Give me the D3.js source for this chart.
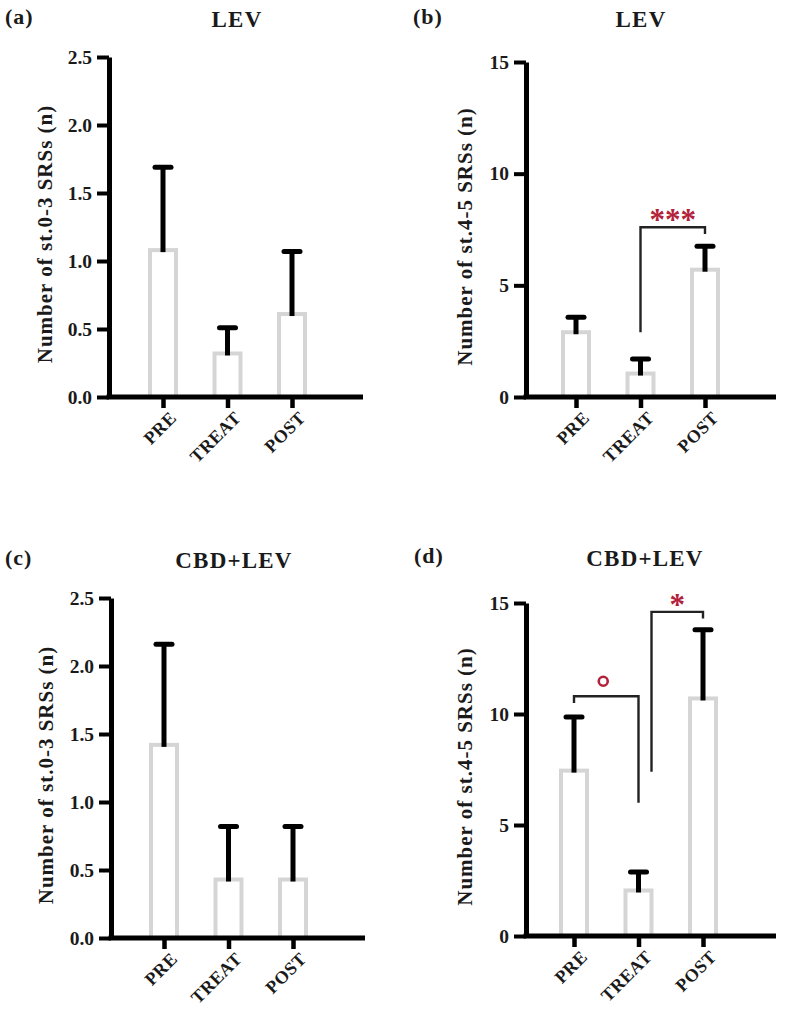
<!DOCTYPE html>
<html>
<head>
<meta charset="utf-8">
<script src="https://cdn.jsdelivr.net/npm/d3@7"></script>
<style>
  body { margin: 0; background: #fff; }
  text { font-family: "Liberation Serif", "DejaVu Serif", serif; font-weight: bold; fill: #1a1a1a; }
</style>
</head>
<body>
<svg width="786" height="1009"></svg>
<script>

// groups on the x axis
let groups = ['PRE', 'TREAT', 'POST']

// mean and error (SEM) per panel
let levLow = [1.08, 0.32, 0.61]
let levLowErr = [0.61, 0.19, 0.46]
let levHigh = [2.9, 1.05, 5.7]
let levHighErr = [0.67, 0.65, 1.05]
let cbdLow = [1.42, 0.43, 0.43]
let cbdLowErr = [0.74, 0.39, 0.39]
let cbdHigh = [7.45, 2.05, 10.7]
let cbdHighErr = [2.41, 0.83, 3.1]

// y ticks
let ticksLow = [0, 0.5, 1.0, 1.5, 2.0, 2.5]
let ticksHigh = [0, 5, 10, 15]

// significance brackets: from, to, left end, top, right end, label
let sigB = [{from: 'TREAT', to: 'POST', y1: 2.9, top: 7.6, y2: 7.3, label: '***', shift: 0}]
let sigD = [{from: 'PRE', to: 'TREAT', y1: 10.5, top: 10.8, y2: 6.0, label: 'o', shift: 0},
            {from: 'TREAT', to: 'POST', y1: 7.4, top: 14.6, y2: 14.3, label: '*', shift: 13}]

let panels = [
  {tag: '(a)', title: 'LEV', vals: levLow, errs: levLowErr, ticks: ticksLow, fmt: '.1f',
   ylab: 'Number of st.0-3 SRSs (n)', sig: [],
   ax: 109, px: 54, top: 57, base: 397, right: 363, tagX: 5, titleX: 237, titleY: 27, labX: 45},
  {tag: '(b)', title: 'LEV', vals: levHigh, errs: levHighErr, ticks: ticksHigh, fmt: 'd',
   ylab: 'Number of st.4-5 SRSs (n)', sig: sigB,
   ax: 526, px: 50, top: 62, base: 397, right: 776, tagX: 413, titleX: 641, titleY: 27, labX: 465},
  {tag: '(c)', title: 'CBD+LEV', vals: cbdLow, errs: cbdLowErr, ticks: ticksLow, fmt: '.1f',
   ylab: 'Number of st.0-3 SRSs (n)', sig: [],
   ax: 111, px: 53, top: 598, base: 938, right: 365, tagX: 5, titleX: 234, titleY: 568, labX: 46},
  {tag: '(d)', title: 'CBD+LEV', vals: cbdHigh, errs: cbdHighErr, ticks: ticksHigh, fmt: 'd',
   ylab: 'Number of st.4-5 SRSs (n)', sig: sigD,
   ax: 526, px: 48, top: 603, base: 936, right: 776, tagX: 414, titleX: 645, titleY: 566, labX: 465}
]

let svg = d3.select('svg')
let red = '#b3213a'

panels.forEach(p => {
  let g = svg.append('g')

  let x = d3.scalePoint().domain(groups).range([p.ax + p.px, p.ax + p.px + 129])
  let y = d3.scaleLinear().domain([0, d3.max(p.ticks)]).range([p.base, p.top])

  // headings
  g.append('text').attr('x', p.tagX).attr('y', p.titleY - 3)
    .attr('font-size', 22).attr('letter-spacing', 1).text(p.tag)
  g.append('text').attr('x', p.titleX).attr('y', p.titleY)
    .attr('font-size', 23).attr('letter-spacing', 1.2)
    .attr('text-anchor', 'middle').text(p.title)

  // bars
  let data = groups.map((k, i) => ({k: k, v: p.vals[i], e: p.errs[i]}))

  g.selectAll('rect.bar').data(data).enter().append('rect')
    .attr('class', 'bar')
    .attr('x', d => x(d.k) - 13)
    .attr('width', 26)
    .attr('y', d => y(d.v))
    .attr('height', d => y(0) - y(d.v))
    .attr('fill', '#fff')
    .attr('stroke', '#d5d5d5')
    .attr('stroke-width', 4)

  // error bars
  g.selectAll('line.err').data(data).enter().append('line')
    .attr('x1', d => x(d.k)).attr('x2', d => x(d.k))
    .attr('y1', d => y(d.v) + 2).attr('y2', d => y(d.v + d.e))
    .attr('stroke', '#000').attr('stroke-width', 5)
  g.selectAll('line.cap').data(data).enter().append('line')
    .attr('x1', d => x(d.k) - 8).attr('x2', d => x(d.k) + 8)
    .attr('y1', d => y(d.v + d.e)).attr('y2', d => y(d.v + d.e))
    .attr('stroke', '#000').attr('stroke-width', 5)
    .attr('stroke-linecap', 'round')

  // y axis
  let yAxis = g.append('g').attr('transform', `translate(${p.ax},0)`)
    .call(d3.axisLeft(y).tickValues(p.ticks).tickFormat(d3.format(p.fmt))
      .tickSize(12).tickSizeOuter(0).tickPadding(5))
  yAxis.select('.domain').attr('stroke-width', 5)
  yAxis.selectAll('.tick line').attr('stroke-width', 4)
  yAxis.selectAll('.tick text').attr('font-size', 19.5).attr('font-family', null)
    .style('fill', '#1a1a1a')

  // x axis
  let xAxis = g.append('g').attr('transform', `translate(0,${p.base})`)
    .call(d3.axisBottom(x).tickSize(11).tickSizeOuter(0))
  xAxis.select('.domain').remove()
  xAxis.append('line').attr('x1', p.ax - 2.5).attr('x2', p.right)
    .attr('stroke', '#000').attr('stroke-width', 5)
  xAxis.selectAll('.tick line').attr('stroke-width', 4.5)
  xAxis.selectAll('.tick text')
    .attr('font-size', 18).attr('font-family', null)
    .attr('letter-spacing', 0.5)
    .style('fill', '#1a1a1a')
    .attr('text-anchor', 'end')
    .attr('y', 0).attr('dy', 0)
    .attr('transform', 'translate(14,22) rotate(-45)')

  // y label
  g.append('text')
    .attr('transform', `translate(${p.labX},${(p.top + p.base) / 2 + 7}) rotate(-90)`)
    .attr('text-anchor', 'middle').attr('dy', '0.35em')
    .attr('font-size', 21).attr('letter-spacing', 1).text(p.ylab)

  // significance brackets
  p.sig.forEach(s => {
    let xa = x(s.from) + s.shift, xb = x(s.to)
    g.append('path')
      .attr('d', `M${xa},${y(s.y1)}V${y(s.top)}H${xb}V${y(s.y2)}`)
      .attr('fill', 'none').attr('stroke', '#222').attr('stroke-width', 2.4)
    if (s.label === 'o') {
      g.append('circle').attr('cx', (xa + xb) / 2 - 3).attr('cy', y(s.top) - 15)
        .attr('r', 4.5).attr('fill', 'none').attr('stroke', red).attr('stroke-width', 2.6)
    } else {
      g.append('text').attr('x', (xa + xb) / 2).attr('y', y(s.top) + 3)
        .attr('text-anchor', 'middle').attr('font-size', 31)
        .style('fill', red).attr('font-family', 'DejaVu Sans')
        .text(s.label)
    }
  })
})

</script>
</body>
</html>
